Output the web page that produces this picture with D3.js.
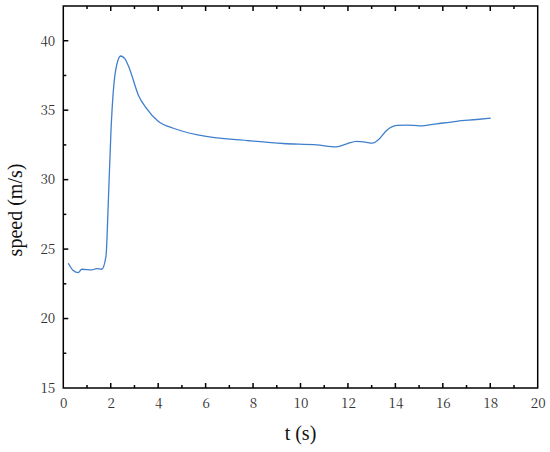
<!DOCTYPE html>
<html><head><meta charset="utf-8">
<script src="https://cdn.jsdelivr.net/npm/d3@7"></script>
<style>body{margin:0;background:#fff}svg{display:block}</style>
</head><body>
<script>
const tValues = [0.21,0.42,0.63,0.78,1.2,1.41,1.62,1.8,1.9,2.01,2.2,2.42,2.6,2.81,3.16,3.5,4.0,4.64,5.73,7.87,9.27,10.68,11.52,11.95,12.37,12.72,13.04,13.28,13.63,14.06,14.48,15.04,15.74,16.59,17.43,18.02];
const speedValues = [23.98,23.45,23.3,23.55,23.5,23.6,23.55,24.5,28.5,33.5,37.8,38.9,38.7,37.9,36.1,35.15,34.2,33.7,33.2,32.8,32.6,32.5,32.36,32.58,32.75,32.7,32.63,32.87,33.54,33.9,33.93,33.87,34.02,34.2,34.33,34.43];
const xTicks = [0,2,4,6,8,10,12,14,16,18,20];
const yTicks = [15,20,25,30,35,40];
const xLabel = "t (s)";
const yLabel = "speed (m/s)";

const W = 550, H = 452;
const m = {left:63.3, right:550-537.7, top:6, bottom:452-388};
const svg = d3.select("body").append("svg").attr("width",W).attr("height",H);
const x = d3.scaleLinear().domain([0,20]).range([m.left, W-m.right]);
const y = d3.scaleLinear().domain([15,42.5]).range([H-m.bottom, m.top]);
const tickFont = '"Noto Serif CJK SC"';
const labelFont = '"Liberation Serif"';

const data = tValues.map((t,i)=>({t, v:speedValues[i]}));
svg.append("path").datum(data)
  .attr("fill","none").attr("stroke","#3f7fcb").attr("stroke-width",1.3)
  .attr("d", d3.line().x(d=>x(d.t)).y(d=>y(d.v)).curve(d3.curveMonotoneX));

svg.append("rect").attr("x",x(0)).attr("y",y(42.5)).attr("width",x(20)-x(0)).attr("height",y(15)-y(42.5))
  .attr("fill","none").attr("stroke","#000").attr("stroke-width",1.5);

const gx = svg.append("g").attr("transform",`translate(0,${y(15)})`)
  .call(d3.axisBottom(x).tickValues(xTicks).tickSize(0).tickPadding(10).tickFormat(d3.format("d")));
gx.select(".domain").remove();
gx.selectAll("text").style("font-family",tickFont).style("font-size","13.5px").attr("fill","#333");
const xMinor = d3.range(1,20,2);
[y(15), y(42.5)].forEach((yy,k)=>{
  const dir = k===0 ? -1 : 1;
  svg.append("g").selectAll("line").data(xTicks.filter(d=>d>0&&d<20)).join("line")
    .attr("x1",d=>x(d)).attr("x2",d=>x(d)).attr("y1",yy).attr("y2",yy+dir*5).attr("stroke","#000").attr("stroke-width",1.5);
  svg.append("g").selectAll("line").data(xMinor).join("line")
    .attr("x1",d=>x(d)).attr("x2",d=>x(d)).attr("y1",yy).attr("y2",yy+dir*3).attr("stroke","#000").attr("stroke-width",1.5);
});

const gy = svg.append("g").attr("transform",`translate(${x(0)},0)`)
  .call(d3.axisLeft(y).tickValues(yTicks).tickSize(0).tickPadding(8).tickFormat(d3.format("d")));
gy.select(".domain").remove();
gy.selectAll("text").style("font-family",tickFont).style("font-size","13.5px").attr("fill","#333");
svg.append("g").selectAll("line").data(yTicks.filter(d=>d>15)).join("line")
  .attr("x1",x(0)).attr("x2",x(0)+5).attr("y1",d=>y(d)).attr("y2",d=>y(d)).attr("stroke","#000").attr("stroke-width",1.5);
svg.append("g").selectAll("line").data([17.5,22.5,27.5,32.5,37.5]).join("line")
  .attr("x1",x(0)).attr("x2",x(0)+3).attr("y1",d=>y(d)).attr("y2",d=>y(d)).attr("stroke","#000").attr("stroke-width",1.5);

svg.append("text").attr("x",(x(0)+x(20))/2).attr("y",440).attr("text-anchor","middle")
  .style("font-family",labelFont).style("font-size","20px").attr("fill","#111").text(xLabel);
svg.append("text").attr("transform",`translate(22,210) rotate(-90)`).attr("text-anchor","middle")
  .style("font-family",labelFont).style("font-size","20px").attr("fill","#111").text(yLabel);
</script>
</body></html>
